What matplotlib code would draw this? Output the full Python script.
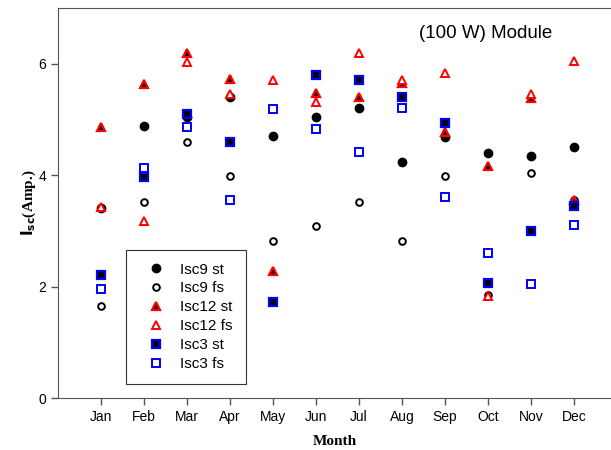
import numpy as np
import matplotlib
matplotlib.use("Agg")
import matplotlib.pyplot as plt

maanden = ['Jan', 'Feb', 'Mar', 'Apr', 'May', 'Jun', 'Jul', 'Aug', 'Sep', 'Oct', 'Nov', 'Dec']

isc9_st = [3.41, 4.89, 5.05, 5.40, 4.71, 5.04, 5.20, 4.24, 4.69, 4.39, 4.35, 4.50]
isc9_fs = [1.65, 3.52, 4.60, 3.98, 2.81, 3.08, 3.51, 2.81, 3.98, 1.84, 4.03, 3.55]
isc12_st = [4.86, 5.63, 6.20, 5.72, 2.28, 5.47, 5.40, 5.66, 4.78, 4.17, 5.38, 3.56]
isc12_fs = [3.42, 3.18, 6.03, 5.45, 5.70, 5.32, 6.20, 5.70, 5.83, 1.83, 5.46, 6.04]
isc3_st = [2.21, 3.97, 5.09, 4.60, 1.73, 5.79, 5.70, 5.40, 4.93, 2.07, 2.99, 3.45]
isc3_fs = [1.96, 4.12, 4.87, 3.56, 5.18, 4.82, 4.41, 5.20, 3.60, 2.61, 2.05, 3.11]

x = np.arange(1, 13)

fig = plt.figure(figsize=(6.11, 4.5), dpi=100)
ax = fig.add_axes([58 / 611, 52 / 450, 553 / 611, 390 / 450])

ax.plot(x, isc9_st, 'o', ms=6, mfc='black', mec='black', mew=1, label='Isc9 st')
ax.plot(x, isc9_fs, 'o', ms=4.8, mfc='white', mec='black', mew=1.4, label='Isc9 fs')
ax.plot(x, isc12_st, '^', ms=6, mfc='black', mec='red', mew=1.6, label='Isc12 st')
ax.plot(x, isc12_fs, '^', ms=6, mfc='white', mec='red', mew=1.4, label='Isc12 fs')
ax.plot(x, isc3_st, 's', ms=5.5, mfc='black', mec='blue', mew=1.6, label='Isc3 st')
ax.plot(x, isc3_fs, 's', ms=5.5, mfc='white', mec='blue', mew=1.4, label='Isc3 fs')

ax.set_xlim(0, 12.86)
ax.set_ylim(0, 7)
ax.set_xticks(x)
ax.set_xticklabels(maanden, family='Liberation Sans', fontsize=10)
ax.set_yticks([0, 2, 4, 6])
ax.set_yticklabels(['0', '2', '4', '6'], family='Liberation Sans', fontsize=10)
ax.tick_params(direction='out', length=5, color='#555555', width=1)

for kant in ['left', 'bottom', 'top']:
	ax.spines[kant].set_color('#555555')
ax.spines['right'].set_visible(False)

ax.set_xlabel('Month', family='Liberation Serif', fontweight='bold', fontsize=11, labelpad=8)
ax.set_ylabel(r'$\mathbf{I_{sc}}$(Amp.)', family='Liberation Serif', fontweight='bold', fontsize=11, labelpad=0)

ax.text(0.893, 0.935, '(100 W) Module', transform=ax.transAxes, ha='right', va='center',
        family='Liberation Sans', fontsize=13.5)

leg = ax.legend(loc='lower left', bbox_to_anchor=(68 / 553, 14 / 390), frameon=True, fancybox=False,
                edgecolor='black', prop={'family': 'Liberation Sans', 'size': 11},
                handletextpad=0.5, labelspacing=0.32, borderpad=0.85, handlelength=2.2, borderaxespad=0)
leg.get_frame().set_linewidth(0.8)

plt.savefig('out.png', dpi=100)
